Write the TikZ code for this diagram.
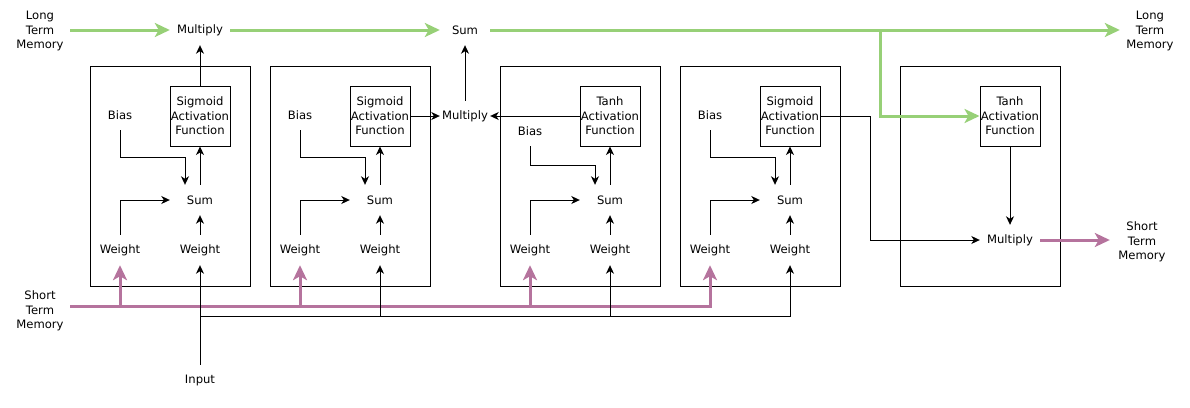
\documentclass[tikz,border=0pt]{standalone}
\usepackage{fontspec}
\setmainfont{DejaVu Sans}
\usetikzlibrary{arrows.meta,calc}
\definecolor{ltm}{HTML}{97D077}
\definecolor{stm}{HTML}{B5739D}
\begin{document}
\begin{tikzpicture}[x=1pt,y=-1pt,
  lbl/.style={font=\fontsize{11.6}{14.5}\selectfont, align=center, inner sep=0pt, minimum width=60pt, minimum height=30pt},
  actbox/.style={lbl, draw, line width=1pt, minimum width=60pt, minimum height=60pt},
  gatebox/.style={draw, line width=1pt, minimum width=160pt, minimum height=220pt, inner sep=0pt},
  conn/.style={line width=1pt, -{Stealth[length=8.5pt,width=8pt,inset=2.5pt]}},
  green/.style={draw=ltm, line width=3pt, -{Stealth[length=15pt,width=14pt,inset=4pt]}},
  pink/.style={draw=stm, line width=3pt, -{Stealth[length=15pt,width=14pt,inset=4pt]}}]
\useasboundingbox (0,0) rectangle (1190,407);

% gate boxes
\node[gatebox] (g1) at (170,176) {};
\node[gatebox] (g2) at (350,176) {};
\node[gatebox] (g3) at (580,176) {};
\node[gatebox] (g4) at (760,176) {};
\node[gatebox] (g5) at (980,176) {};

% activation boxes
\node[actbox] (a1) at (200,116) {Sigmoid\\Activation\\Function};
\node[actbox] (a2) at (380,116) {Sigmoid\\Activation\\Function};
\node[actbox] (a3) at (610,116) {Tanh\\Activation\\Function};
\node[actbox] (a4) at (790,116) {Sigmoid\\Activation\\Function};
\node[actbox] (a5) at (1010,116) {Tanh\\Activation\\Function};

% bias
\node[lbl] (b1) at (120,115) {Bias};
\node[lbl] (b2) at (300,115) {Bias};
\node[lbl] (b3) at (530,131) {Bias};
\node[lbl] (b4) at (710,115) {Bias};

% sums
\node[lbl] (s1) at (200,200) {Sum};
\node[lbl] (s2) at (380,200) {Sum};
\node[lbl] (s3) at (610,200) {Sum};
\node[lbl] (s4) at (790,200) {Sum};

% weights
\node[lbl] (w1l) at (120,250) {Weight};
\node[lbl] (w1r) at (200,250) {Weight};
\node[lbl] (w2l) at (300,250) {Weight};
\node[lbl] (w2r) at (380,250) {Weight};
\node[lbl] (w3l) at (530,250) {Weight};
\node[lbl] (w3r) at (610,250) {Weight};
\node[lbl] (w4l) at (710,250) {Weight};
\node[lbl] (w4r) at (790,250) {Weight};

% top row
\node[lbl] (ltmin) at (40,31) {Long\\Term\\Memory};
\node[lbl] (m1) at (200,30) {Multiply};
\node[lbl, minimum width=50pt] (st) at (465,30) {Sum};
\node[lbl, minimum width=50pt] (mm) at (465,116) {Multiply};
\node[lbl] (ltmout) at (1150,31) {Long\\Term\\Memory};

% right side
\node[lbl] (mr) at (1010,240) {Multiply};
\node[lbl, minimum width=64pt] (stmout) at (1142,242) {Short\\Term\\Memory};

% inputs
\node[lbl] (stmin) at (40,311) {Short\\Term\\Memory};
\node[lbl] (inp) at (200,380) {Input};

% inside-gate connectors
\foreach \i in {1,2,4} {
  \draw[conn] (b\i.south) |- ($(s\i.north)+(-15,-27)$) -- ([xshift=-15pt]s\i.north);
}
\draw[conn] (b3.south) |- ($(s3.north)+(-15,-19)$) -- ([xshift=-15pt]s3.north);
\foreach \i in {1,2,3,4} {
  \draw[conn] (w\i l.north) |- (s\i.west);
  \draw[conn] (w\i r.north) -- (s\i.south);
  \draw[conn] (s\i.north) -- (a\i.south);
}

% gate outputs
\draw[conn] (a1.north) -- (m1.south);
\draw[conn] (a2.east) -- (mm.west);
\draw[conn] (a3.west) -- (mm.east);
\draw[conn] (mm.north) -- (st.south);
\coordinate (t4) at (870,240);
\draw[conn] (a4.east) -| (t4) -- (mr.west);
\draw[conn] (a5.south) -- (mr.north);

% long term memory
\draw[green] (ltmin.east |- m1.west) -- (m1.west);
\draw[green] (m1.east) -- (st.west);
\draw[green] (st.east) -- (ltmout.west |- st.east);
\coordinate (lb) at (880,32);
\draw[green] (lb) |- (a5.west);

% short term memory
\draw[pink] (mr.east) -- (stmout.west |- mr.east);
\coordinate (p0) at (70,306);
\draw[pink] (p0) -| (w4l.south);
\draw[pink] (w1l |- p0) -- (w1l.south);
\draw[pink] (w2l |- p0) -- (w2l.south);
\draw[pink] (w3l |- p0) -- (w3l.south);

% input
\draw[conn] (inp.north) -- (w1r.south);
\coordinate (ib) at (200,316);
\draw[conn] (ib) -| (w4r.south);
\draw[conn] (w2r |- ib) -- (w2r.south);
\draw[conn] (w3r |- ib) -- (w3r.south);
\end{tikzpicture}
\end{document}
